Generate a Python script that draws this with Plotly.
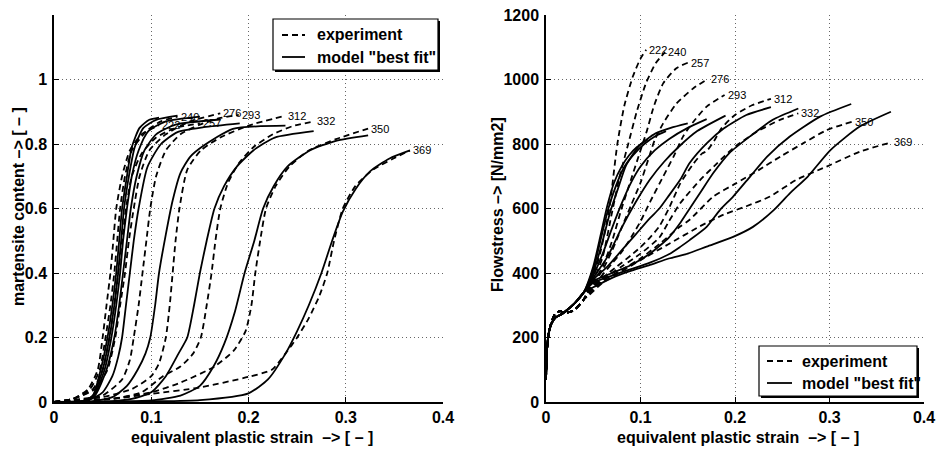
import plotly.graph_objects as go

# Test temperatures [K]
temps = [222, 240, 257, 276, 293, 312, 332, 350, 369]

# Martensite content vs. equivalent plastic strain, measured (strain list, content list)
mart_exp = [
    ([0, 0.02, 0.035, 0.045, 0.05, 0.054, 0.058, 0.061, 0.064, 0.07, 0.078, 0.09, 0.108],
     [0, 0.01, 0.04, 0.1, 0.2, 0.3, 0.4, 0.5, 0.6, 0.7, 0.78, 0.83, 0.858]),
    ([0, 0.02, 0.037, 0.047, 0.053, 0.058, 0.062, 0.065, 0.068, 0.073, 0.08, 0.095, 0.11, 0.127],
     [0, 0.01, 0.04, 0.1, 0.2, 0.3, 0.4, 0.5, 0.6, 0.7, 0.78, 0.84, 0.87, 0.885]),
    ([0, 0.02, 0.04, 0.05, 0.057, 0.062, 0.066, 0.07, 0.074, 0.08, 0.09, 0.105, 0.125, 0.15],
     [0, 0.01, 0.04, 0.1, 0.2, 0.3, 0.4, 0.5, 0.6, 0.7, 0.77, 0.82, 0.85, 0.864]),
    ([0, 0.02, 0.042, 0.055, 0.063, 0.068, 0.073, 0.077, 0.082, 0.088, 0.098, 0.115, 0.14, 0.171],
     [0, 0.01, 0.04, 0.1, 0.2, 0.3, 0.4, 0.5, 0.6, 0.7, 0.78, 0.83, 0.87, 0.895]),
    ([0, 0.03, 0.05, 0.07, 0.078, 0.082, 0.087, 0.091, 0.095, 0.099, 0.105, 0.115, 0.13, 0.15, 0.17, 0.19],
     [0, 0.01, 0.02, 0.07, 0.13, 0.2, 0.3, 0.4, 0.5, 0.6, 0.7, 0.78, 0.83, 0.86, 0.88, 0.89]),
    ([0, 0.03, 0.05, 0.08, 0.1, 0.108, 0.115, 0.119, 0.122, 0.125, 0.129, 0.137, 0.151, 0.171, 0.2, 0.238],
     [0, 0.008, 0.015, 0.04, 0.08, 0.12, 0.2, 0.3, 0.4, 0.5, 0.6, 0.72, 0.78, 0.82, 0.857, 0.888]),
    ([0, 0.03, 0.06, 0.09, 0.112, 0.13, 0.143, 0.151, 0.157, 0.162, 0.166, 0.171, 0.179, 0.19, 0.205, 0.225, 0.245, 0.267],
     [0, 0.005, 0.01, 0.03, 0.08, 0.11, 0.15, 0.2, 0.3, 0.4, 0.5, 0.6, 0.68, 0.74, 0.79, 0.83, 0.855, 0.87]),
    ([0, 0.03, 0.06, 0.1, 0.13, 0.165, 0.185, 0.197, 0.203, 0.207, 0.212, 0.218, 0.228, 0.242, 0.262, 0.29, 0.323],
     [0, 0.005, 0.01, 0.03, 0.06, 0.11, 0.16, 0.22, 0.3, 0.4, 0.5, 0.6, 0.67, 0.73, 0.78, 0.815, 0.848]),
    ([0, 0.02, 0.06, 0.1, 0.15, 0.2, 0.224, 0.238, 0.25, 0.262, 0.273, 0.281, 0.288, 0.297, 0.31, 0.328, 0.349, 0.366],
     [0, 0.003, 0.01, 0.025, 0.045, 0.078, 0.1, 0.15, 0.2, 0.26, 0.33, 0.4, 0.5, 0.6, 0.67, 0.72, 0.755, 0.78]),
]

# Martensite content, model "best fit"
mart_fit = [
    ([0, 0.03, 0.04, 0.048, 0.055, 0.06, 0.064, 0.067, 0.07, 0.075, 0.08, 0.088, 0.098, 0.108],
     [0, 0.003, 0.02, 0.1, 0.2, 0.3, 0.4, 0.5, 0.6, 0.7, 0.79, 0.85, 0.875, 0.882]),
    ([0, 0.03, 0.04, 0.05, 0.057, 0.062, 0.066, 0.069, 0.072, 0.077, 0.083, 0.092, 0.105, 0.127],
     [0, 0.003, 0.02, 0.1, 0.2, 0.3, 0.4, 0.5, 0.6, 0.7, 0.79, 0.85, 0.875, 0.888]),
    ([0, 0.03, 0.041, 0.052, 0.059, 0.064, 0.068, 0.071, 0.075, 0.08, 0.087, 0.097, 0.115, 0.15],
     [0, 0.003, 0.02, 0.1, 0.2, 0.3, 0.4, 0.5, 0.6, 0.7, 0.78, 0.84, 0.87, 0.885]),
    ([0, 0.03, 0.042, 0.054, 0.062, 0.067, 0.071, 0.075, 0.079, 0.085, 0.093, 0.105, 0.125, 0.171],
     [0, 0.003, 0.02, 0.1, 0.2, 0.3, 0.4, 0.5, 0.6, 0.7, 0.78, 0.83, 0.86, 0.876]),
    ([0, 0.035, 0.05, 0.06, 0.066, 0.07, 0.074, 0.078, 0.082, 0.087, 0.096, 0.11, 0.127, 0.154, 0.191],
     [0, 0.005, 0.03, 0.08, 0.14, 0.2, 0.3, 0.4, 0.5, 0.6, 0.728, 0.8, 0.837, 0.852, 0.864]),
    ([0, 0.04, 0.06, 0.075, 0.086, 0.094, 0.099, 0.104, 0.108, 0.115, 0.122, 0.13, 0.14, 0.154, 0.184, 0.238],
     [0, 0.003, 0.015, 0.05, 0.1, 0.15, 0.2, 0.3, 0.4, 0.52, 0.625, 0.71, 0.76, 0.795, 0.847, 0.857]),
    ([0, 0.05, 0.08, 0.1, 0.115, 0.128, 0.137, 0.144, 0.15, 0.157, 0.165, 0.175, 0.188, 0.205, 0.227, 0.267],
     [0, 0.001, 0.01, 0.03, 0.08, 0.15, 0.2, 0.3, 0.4, 0.5, 0.6, 0.67, 0.73, 0.78, 0.82, 0.84]),
    ([0, 0.05, 0.1, 0.13, 0.15, 0.164, 0.175, 0.186, 0.196, 0.206, 0.215, 0.226, 0.24, 0.263, 0.29, 0.323],
     [0, 0.001, 0.005, 0.02, 0.05, 0.11, 0.18, 0.28, 0.4, 0.5, 0.6, 0.67, 0.73, 0.78, 0.81, 0.827]),
    ([0, 0.05, 0.1, 0.15, 0.2, 0.22, 0.238, 0.25, 0.262, 0.275, 0.286, 0.297, 0.31, 0.325, 0.345, 0.366],
     [0, 0.0, 0.002, 0.006, 0.027, 0.07, 0.15, 0.22, 0.3, 0.4, 0.5, 0.59, 0.66, 0.715, 0.755, 0.78]),
]

# Initial yielding part shared by all flow curves
flow_start_strain = [0, 0.001, 0.003, 0.006, 0.01, 0.015, 0.02, 0.03, 0.04]
flow_start_fit = [70, 160, 215, 245, 262, 270, 280, 305, 340]
flow_start_exp = [70, 160, 215, 250, 275, 282, 276, 285, 318]

# Flow stress [N/mm2] vs. equivalent plastic strain, measured (after the initial part)
flow_exp = [
    ([0.045, 0.05, 0.058, 0.067, 0.0755, 0.083, 0.092, 0.1, 0.106],
     [350, 385, 470, 600, 800, 920, 1010, 1065, 1092]),
    ([0.045, 0.05, 0.06, 0.07, 0.078, 0.087, 0.096, 0.106, 0.116, 0.126],
     [348, 375, 450, 590, 700, 800, 900, 990, 1050, 1085]),
    ([0.045, 0.05, 0.06, 0.07, 0.08, 0.09, 0.1, 0.107, 0.114, 0.124, 0.138, 0.15],
     [346, 370, 420, 500, 600, 690, 780, 843, 916, 988, 1035, 1052]),
    ([0.045, 0.05, 0.06, 0.07, 0.08, 0.09, 0.1, 0.108, 0.115, 0.124, 0.138, 0.156, 0.171],
     [344, 365, 410, 470, 540, 610, 680, 750, 812, 864, 925, 973, 1001]),
    ([0.045, 0.05, 0.06, 0.07, 0.08, 0.09, 0.1, 0.11, 0.124, 0.135, 0.145, 0.156, 0.17, 0.189],
     [342, 360, 395, 430, 465, 510, 560, 620, 699, 761, 823, 869, 916, 952]),
    ([0.045, 0.06, 0.075, 0.09, 0.1, 0.11, 0.12, 0.13, 0.142, 0.155, 0.165, 0.17, 0.178, 0.186, 0.2, 0.218, 0.238],
     [340, 385, 420, 455, 480, 510, 545, 600, 677, 735, 770, 778, 810, 850, 890, 920, 940]),
    ([0.045, 0.06, 0.08, 0.1, 0.12, 0.13, 0.142, 0.163, 0.181, 0.198, 0.223, 0.247, 0.267],
     [338, 380, 420, 460, 510, 560, 616, 688, 740, 787, 838, 874, 895]),
    ([0.045, 0.06, 0.08, 0.1, 0.12, 0.142, 0.152, 0.177, 0.201, 0.225, 0.248, 0.272, 0.297, 0.3235],
     [335, 375, 410, 445, 490, 544, 565, 637, 678, 719, 761, 802, 843, 869]),
    ([0.045, 0.06, 0.08, 0.1, 0.13, 0.163, 0.188, 0.212, 0.237, 0.265, 0.297, 0.332, 0.365],
     [330, 370, 405, 440, 490, 545, 581, 607, 637, 689, 730, 776, 805]),
]

# Flow stress, model "best fit" (after the initial part)
flow_fit = [
    ([0.05, 0.058, 0.065, 0.072, 0.08, 0.088, 0.096, 0.108],
     [420, 520, 610, 680, 730, 765, 790, 815]),
    ([0.05, 0.058, 0.066, 0.074, 0.082, 0.092, 0.104, 0.116, 0.127],
     [410, 505, 600, 670, 725, 765, 800, 825, 840]),
    ([0.05, 0.06, 0.068, 0.076, 0.085, 0.099, 0.116, 0.132, 0.15],
     [400, 500, 590, 660, 735, 796, 833, 850, 864]),
    ([0.05, 0.06, 0.07, 0.08, 0.09, 0.1, 0.115, 0.13, 0.15, 0.17],
     [392, 460, 540, 615, 680, 730, 780, 815, 850, 877]),
    ([0.05, 0.065, 0.08, 0.095, 0.11, 0.125, 0.14, 0.16, 0.19],
     [385, 450, 540, 620, 690, 745, 790, 840, 888]),
    ([0.05, 0.065, 0.08, 0.095, 0.11, 0.12, 0.13, 0.142, 0.152, 0.17, 0.188, 0.212, 0.238],
     [380, 420, 470, 520, 570, 600, 640, 689, 741, 802, 848, 890, 914]),
    ([0.05, 0.07, 0.09, 0.11, 0.13, 0.142, 0.149, 0.163, 0.177, 0.194, 0.216, 0.24, 0.267],
     [375, 400, 425, 460, 510, 555, 586, 648, 710, 772, 824, 875, 910]),
    ([0.05, 0.07, 0.09, 0.11, 0.13, 0.142, 0.152, 0.17, 0.184, 0.198, 0.216, 0.234, 0.258, 0.29, 0.323],
     [370, 392, 412, 432, 458, 481, 502, 543, 595, 637, 699, 761, 823, 885, 924]),
    ([0.053, 0.07, 0.088, 0.11, 0.13, 0.15, 0.17, 0.198, 0.219, 0.241, 0.258, 0.277, 0.301, 0.332, 0.365],
     [360, 385, 405, 425, 445, 460, 482, 512, 543, 595, 647, 699, 781, 854, 900]),
]

x_ticks = [0, 0.1, 0.2, 0.3, 0.4]
x_tick_text = ["0", "0.1", "0.2", "0.3", "0.4"]
mart_ticks = [0, 0.2, 0.4, 0.6, 0.8, 1.0]
mart_tick_text = ["0", "0.2", "0.4", "0.6", "0.8", "1"]
flow_ticks = [0, 200, 400, 600, 800, 1000, 1200]
flow_tick_text = ["0", "200", "400", "600", "800", "1000", "1200"]
legend_labels = ["experiment", 'model "best fit"']

W, H = 938, 452
FONT = "Liberation Sans"
DASH = "6px,4px"
LW = 1.8


def px(xp):
    return xp / W


def py(yp):
    return 1 - yp / H


def bold(items):
    return ["<b>%s</b>" % s for s in items]


fig = go.Figure()


def add_curve(x, y, dashed, xa, ya):
    fig.add_trace(go.Scatter(
        x=x, y=y, mode="lines", xaxis=xa, yaxis=ya, showlegend=False,
        line=dict(color="black", width=LW, dash=DASH if dashed else "solid",
                  shape="spline", smoothing=0.6),
        hoverinfo="skip"))


# Left panel: martensite content
for ex, fit in zip(mart_exp, mart_fit):
    add_curve(ex[0], ex[1], True, "x", "y")
    add_curve(fit[0], fit[1], False, "x", "y")

# Right panel: flow stress
for ex, fit in zip(flow_exp, flow_fit):
    add_curve(flow_start_strain + ex[0], flow_start_exp + ex[1], True, "x2", "y2")
    add_curve(flow_start_strain + fit[0], flow_start_fit + fit[1], False, "x2", "y2")

# Temperature labels at the end of each measured curve
annotations = []
for t, ex in zip(temps, mart_exp):
    annotations.append(dict(x=ex[0][-1], y=ex[1][-1], xref="x", yref="y", text=str(t),
                            showarrow=False, xanchor="left", yanchor="middle", xshift=1,
                            font=dict(family=FONT, size=11, color="black")))
for t, ex in zip(temps, flow_exp):
    annotations.append(dict(x=ex[0][-1], y=ex[1][-1], xref="x2", yref="y2", text=str(t),
                            showarrow=False, xanchor="left", yanchor="middle", xshift=1,
                            font=dict(family=FONT, size=11, color="black")))

title_font = dict(family=FONT, size=16, color="black")
annotations += [
    dict(x=px(252), y=py(437), xref="paper", yref="paper", showarrow=False,
         text="<b>equivalent plastic strain  –> [ – ]</b>", font=title_font,
         xanchor="center", yanchor="middle"),
    dict(x=px(738), y=py(437), xref="paper", yref="paper", showarrow=False,
         text="<b>equivalent plastic strain  –> [ – ]</b>", font=title_font,
         xanchor="center", yanchor="middle"),
    dict(x=px(18), y=py(207), xref="paper", yref="paper", showarrow=False,
         text="<b>martensite content –> [ – ]</b>", font=title_font, textangle=-90,
         xanchor="center", yanchor="middle"),
    dict(x=px(497), y=py(205), xref="paper", yref="paper", showarrow=False,
         text="<b>Flowstress –> [N/mm2]</b>", font=title_font, textangle=-90,
         xanchor="center", yanchor="middle"),
]

# Legend boxes, drawn in pixel positions of the page
shapes = []


def legend_box(x0, y0, x1, y1, text_x, line_x0, line_x1, rows):
    shapes.append(dict(type="rect", xref="paper", yref="paper",
                       x0=px(x0 + 2), x1=px(x1 + 2), y0=py(y1 + 2), y1=py(y0 + 2),
                       fillcolor="black", line=dict(width=0), layer="above"))
    shapes.append(dict(type="rect", xref="paper", yref="paper",
                       x0=px(x0), x1=px(x1), y0=py(y1), y1=py(y0),
                       fillcolor="white", line=dict(color="black", width=1.2), layer="above"))
    for (yy, dashed), label in zip(rows, legend_labels):
        shapes.append(dict(type="line", xref="paper", yref="paper",
                           x0=px(line_x0), x1=px(line_x1), y0=py(yy), y1=py(yy),
                           line=dict(color="black", width=LW,
                                     dash=DASH if dashed else "solid"),
                           layer="above"))
        annotations.append(dict(x=px(text_x), y=py(yy), xref="paper", yref="paper",
                                text="<b>%s</b>" % label, showarrow=False,
                                xanchor="left", yanchor="middle",
                                font=dict(family=FONT, size=16, color="black")))


legend_box(273, 19, 438, 70, 315, 282, 305, [(35, True), (57, False)])
legend_box(759, 346, 917, 396, 800, 767, 792, [(361, True), (383, False)])

tick_font = dict(family=FONT, size=16, color="black")
axis_common = dict(showline=True, linecolor="black", linewidth=1.5, mirror=False,
                   ticks="inside", ticklen=5, tickwidth=1, tickcolor="black",
                   showgrid=True, gridcolor="#666666", griddash="1px,3px", gridwidth=1,
                   zeroline=False, tickfont=tick_font, fixedrange=True,
                   automargin=False)

y_dom = [(H - 402) / H, (H - 15) / H]

fig.update_layout(
    width=W, height=H, margin=dict(l=0, r=0, t=0, b=0, autoexpand=False),
    paper_bgcolor="white", plot_bgcolor="white",
    xaxis=dict(domain=[px(54), px(443)], range=[0, 0.4], tickvals=x_ticks,
               ticktext=bold(x_tick_text), anchor="y", ticklabelstandoff=0,
               **axis_common),
    yaxis=dict(domain=y_dom, range=[0, 1.2], tickvals=mart_ticks,
               ticktext=bold(mart_tick_text), anchor="x", ticklabelstandoff=2,
               **axis_common),
    xaxis2=dict(domain=[px(546), px(924)], range=[0, 0.4], tickvals=x_ticks,
                ticktext=bold(x_tick_text), anchor="y2", ticklabelstandoff=0,
                **axis_common),
    yaxis2=dict(domain=y_dom, range=[0, 1200], tickvals=flow_ticks,
                ticktext=bold(flow_tick_text), anchor="x2", ticklabelstandoff=2,
                **axis_common),
    annotations=annotations,
    shapes=shapes,
    showlegend=False,
)

fig.write_html("out.html")
